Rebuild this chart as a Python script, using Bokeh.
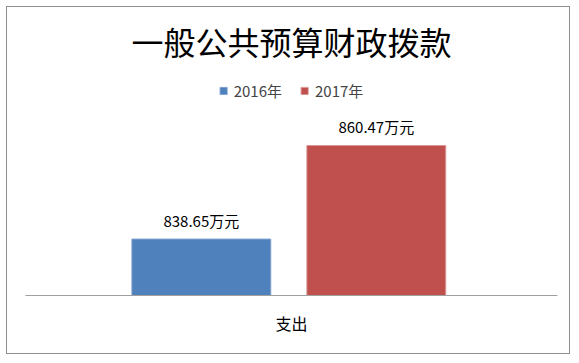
from bokeh.plotting import figure
from bokeh.models import FactorRange, Range1d, ColumnDataSource, Legend, LegendItem
from bokeh.transform import dodge
from bokeh.core.properties import value
from bokeh.embed import file_html
from bokeh.resources import INLINE

# ---- data ----
title_text = "一般公共预算财政拨款"
categories = ["支出"]
years = ["2016年", "2017年"]
values = [838.65, 860.47]
unit = "万元"

# ---- style ----
FONT = "Noto Sans CJK SC"
colors = ["#4F81BD", "#C0504D"]
edge_colors = ["#7FA0CF", "#D99694"]
offsets = [-0.1695, 0.1594]
bar_width = 0.261
y_start = 825.5
px_per_unit = 4.29

W, H = 564, 348
mb_top, mb_bottom, mb_left, mb_right = 63, 60, 18, 14
frame_h = H - mb_top - mb_bottom
y_end = y_start + frame_h / px_per_unit

p = figure(width=W, height=H,
           x_range=FactorRange(*categories),
           y_range=Range1d(y_start, y_end),
           output_backend="svg", toolbar_location=None,
           min_border_top=mb_top, min_border_bottom=mb_bottom,
           min_border_left=mb_left, min_border_right=mb_right,
           margin=(6, 0, 0, 6),
           styles={"border": "1px solid #8e8e8e"})

p.background_fill_color = "white"
p.border_fill_color = "white"
p.outline_line_color = None
p.xgrid.visible = False
p.ygrid.visible = False
p.yaxis.visible = False

p.title.text = title_text
p.title.align = "center"
p.title.text_font = FONT
p.title.text_font_size = "32px"
p.title.text_font_style = "normal"
p.title.text_color = "black"
p.title.standoff = 14

items = []
for i, yr in enumerate(years):
    src = ColumnDataSource(dict(x=[categories[0]], top=[values[i]],
                                label=[f"{values[i]:.2f}{unit}"]))
    r = p.vbar(x=dodge("x", offsets[i], range=p.x_range), top="top",
               bottom=y_start, width=bar_width, source=src,
               fill_color=colors[i], line_color=edge_colors[i], line_width=1)
    p.text(x=dodge("x", offsets[i], range=p.x_range), y="top", text="label",
           source=src, text_font=value(FONT), text_font_size="15px",
           text_align="center", text_baseline="middle", y_offset=-19,
           text_color="black")
    items.append(LegendItem(label=yr, renderers=[r]))

legend = Legend(items=items, orientation="horizontal",
                label_text_font=FONT, label_text_font_size="15px",
                glyph_width=9, glyph_height=9, label_standoff=6, spacing=18,
                border_line_color=None, background_fill_alpha=0,
                location="top_center", padding=2, margin=10)
p.add_layout(legend)

ax = p.xaxis[0]
ax.axis_line_color = "#a0a0a0"
ax.axis_line_width = 1
ax.major_tick_line_color = None
ax.minor_tick_line_color = None
ax.major_label_text_font = FONT
ax.major_label_text_font_size = "16px"
ax.major_label_text_color = "black"
ax.major_label_standoff = 9

open("out.html", "w").write(file_html(p, INLINE))
